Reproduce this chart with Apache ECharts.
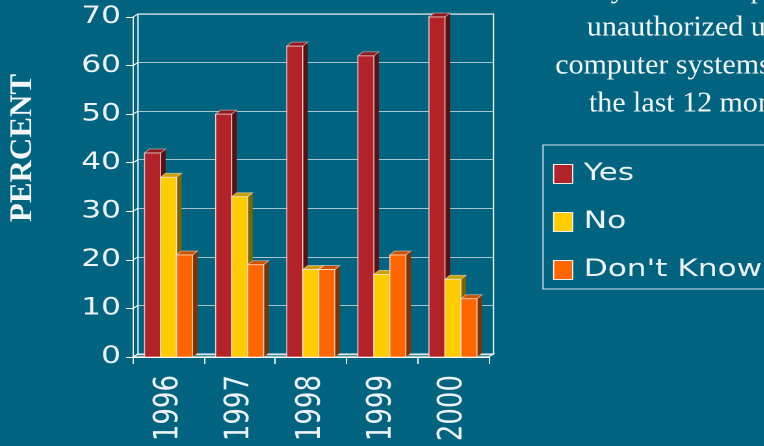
<!DOCTYPE html>
<html>
<head>
<meta charset="utf-8">
<script src="https://cdn.jsdelivr.net/npm/echarts@6/dist/echarts.min.js"></script>
<style>
  html, body { margin: 0; padding: 0; background: #006380; overflow: hidden; }
  #chart { height: 446px; transform-origin: 0 0; }
</style>
</head>
<body>
<div id="chart"></div>
<script>
// the original's sans text is drawn very wide, so the whole chart is stretched horizontally
var S = 1.3;

var years = ['1996', '1997', '1998', '1999', '2000'];
var yesValues = [42, 50, 64, 62, 70];
var noValues = [37, 33, 18, 17, 16];
var dontKnowValues = [21, 19, 18, 21, 12];
var yTicks = [0, 10, 20, 30, 40, 50, 60, 70];
var titleLines = ['Did your site experience', 'unauthorized use of', 'computer systems within', 'the last 12 months?'];
var seriesNames = ['Yes', 'No', "Don't Know"];

var palette = [
  { front: '#b22229', top: '#8c1a1f', side: '#5a0f12' },
  { front: '#ffcc00', top: '#caa200', side: '#7d6500' },
  { front: '#ff6600', top: '#cc5200', side: '#7f3300' }
];

var BAR_W = 16, DEPTH_X = 5, DEPTH_Y = 4;
var textColor = '#eef2f4';
var sans = '"DejaVu Sans", sans-serif';

var el = document.getElementById('chart');
el.style.width = (764 / S) + 'px';
el.style.transform = 'scaleX(' + S + ')';

function barRenderer(k) {
  var c = palette[k];
  return function (params, api) {
    var top = api.coord([api.value(0), api.value(1)]);
    var base = api.coord([api.value(0), 0]);
    var bw = BAR_W / S, dx = DEPTH_X / S, dy = DEPTH_Y;
    var x0 = top[0] - 1.5 * bw + k * bw;
    var x1 = x0 + bw;
    var y0 = top[1], yb = base[1];
    return {
      type: 'group',
      children: [
        { type: 'polygon', shape: { points: [[x1, y0], [x1 + dx, y0 - dy], [x1 + dx, yb - dy], [x1, yb]] },
          style: { fill: c.side } },
        { type: 'polygon', shape: { points: [[x0, y0], [x0 + dx, y0 - dy], [x1 + dx, y0 - dy], [x1, y0]] },
          style: { fill: c.top, stroke: 'rgba(255,230,230,0.6)', lineWidth: 0.8 } },
        { type: 'rect', shape: { x: x0, y: y0, width: bw, height: yb - y0 },
          style: { fill: c.front, stroke: 'rgba(255,235,235,0.85)', lineWidth: 0.8 } }
      ]
    };
  };
}

// tick connectors between the front axis and the back wall, plus the floor
function frameRenderer(params, api) {
  var cs = params.coordSys;
  var y = api.coord([0, api.value(1)])[1];
  var dx = DEPTH_X / S, dy = 3;
  var kids = [
    { type: 'line', shape: { x1: cs.x, y1: y, x2: cs.x + dx, y2: y - dy }, style: { stroke: '#ffffff', lineWidth: 1 } }
  ];
  if (api.value(1) === 0) {
    kids.push({ type: 'polygon',
      shape: { points: [[cs.x, y], [cs.x + cs.width, y], [cs.x + cs.width + dx, y - dy], [cs.x + dx, y - dy]] },
      style: { fill: 'rgba(210,220,225,0.35)', stroke: '#ffffff', lineWidth: 1 } });
  }
  return { type: 'group', children: kids };
}

var valueSets = [yesValues, noValues, dontKnowValues];
var barSeries = valueSets.map(function (vals, k) {
  return {
    name: seriesNames[k], type: 'custom', coordinateSystem: 'cartesian2d',
    xAxisIndex: 0, yAxisIndex: 0, z: 3,
    itemStyle: { color: palette[k].front },
    encode: { x: 0, y: 1 },
    data: vals.map(function (v, i) { return [i, v]; }),
    renderItem: barRenderer(k)
  };
});

var chart = echarts.init(el, null, { renderer: 'canvas', devicePixelRatio: 2 });
chart.setOption({
  backgroundColor: '#006380',
  animation: false,
  color: palette.map(function (p) { return p.front; }),
  grid: [
    { left: 133 / S, top: 17, width: 355.5 / S, height: 340 },
    { left: 138 / S, top: 14, width: 355.5 / S, height: 340, show: true, borderColor: '#ffffff', borderWidth: 1, backgroundColor: 'transparent' }
  ],
  xAxis: [
    { type: 'category', gridIndex: 0, data: years, boundaryGap: true,
      axisLine: { lineStyle: { color: '#ffffff', width: 1 } },
      axisTick: { show: true, length: 7, lineStyle: { color: '#ffffff' } },
      axisLabel: { rotate: 90, margin: 18, fontSize: 26, color: textColor, fontFamily: sans } },
    { type: 'category', gridIndex: 1, data: years, show: false }
  ],
  yAxis: [
    { type: 'value', gridIndex: 0, min: 0, max: 70, interval: 10,
      axisLine: { show: true, lineStyle: { color: '#ffffff', width: 1 } },
      axisTick: { show: true, length: 7 / S, lineStyle: { color: '#ffffff' } },
      splitLine: { show: false },
      axisLabel: { margin: 12 / S, fontSize: 24, color: textColor, fontFamily: sans } },
    { type: 'value', gridIndex: 1, min: 0, max: 70, interval: 10,
      axisLine: { show: false }, axisTick: { show: false }, axisLabel: { show: false },
      splitLine: { show: true, lineStyle: { color: '#a9c3cf', width: 1 } } }
  ],
  legend: {
    data: seriesNames, orient: 'vertical', icon: 'rect',
    left: 543 / S, top: 145,
    padding: [17, 40 / S, 7, 10 / S],
    itemGap: 24, itemWidth: 19 / S, itemHeight: 19,
    itemStyle: { borderColor: '#eeeeee', borderWidth: 1 },
    borderColor: '#d6e0e5', borderWidth: 1,
    textStyle: { fontSize: 24, color: textColor, fontFamily: sans, padding: [0, 0, 0, 3.5] }
  },
  graphic: [
    { type: 'text', x: 705 / S, y: -29, scaleX: 1.07 / S,
      style: { text: titleLines.join('\n'), fontSize: 28, fontFamily: '"Liberation Serif", serif',
        fill: '#f4f6f7', align: 'center', verticalAlign: 'top', lineHeight: 38 } },
    { type: 'text', x: 23 / S, y: 148, rotation: Math.PI / 2, scaleY: 1 / S,
      style: { text: 'PERCENT', fontSize: 31, fontWeight: 'bold', fontFamily: '"Liberation Serif", serif',
        fill: '#f4f6f7', align: 'center', verticalAlign: 'middle' } }
  ],
  series: [{
    name: 'frame', type: 'custom', coordinateSystem: 'cartesian2d',
    xAxisIndex: 0, yAxisIndex: 0, z: 1, silent: true,
    encode: { x: 0, y: 1 },
    data: yTicks.map(function (v) { return [0, v]; }),
    renderItem: frameRenderer
  }].concat(barSeries)
});
</script>
</body>
</html>
